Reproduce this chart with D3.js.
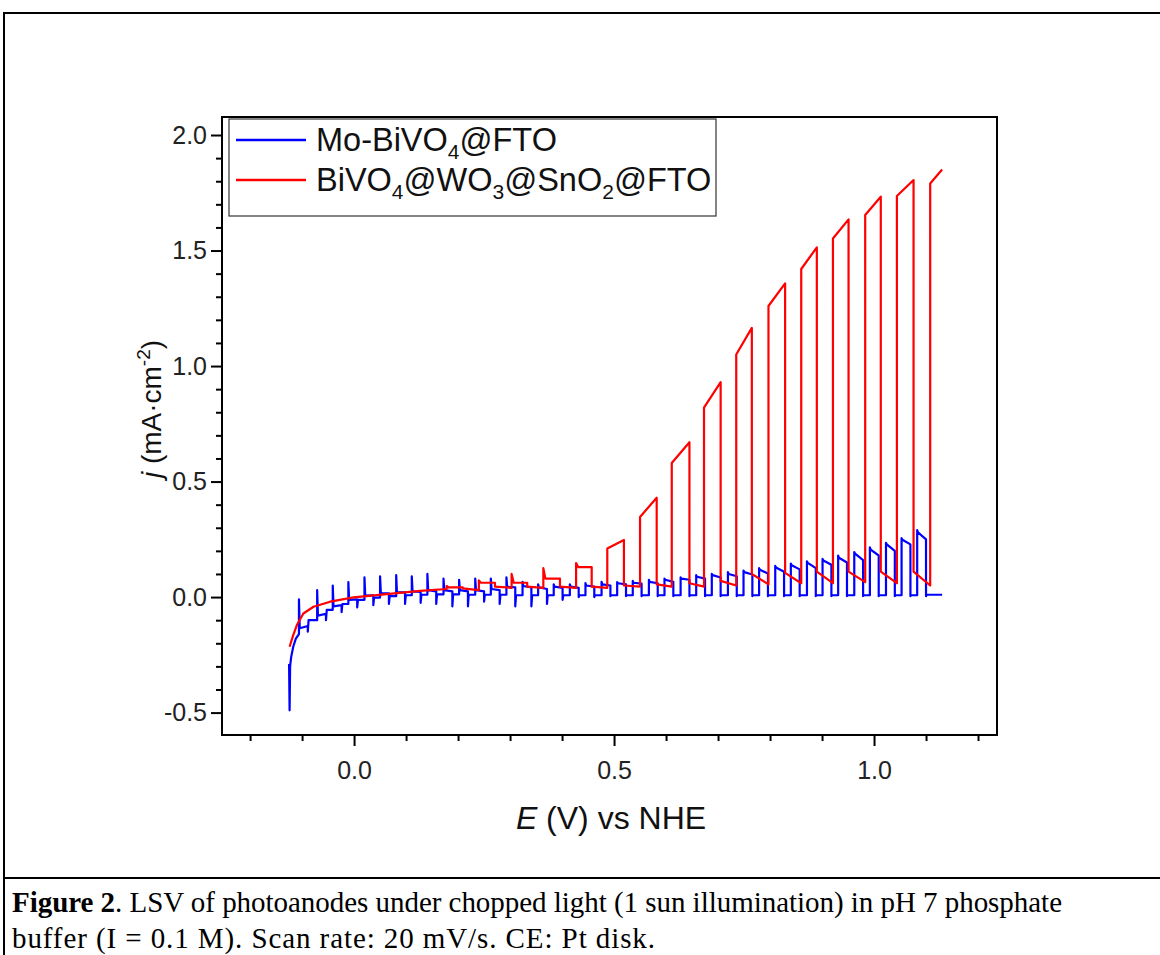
<!DOCTYPE html>
<html>
<head>
<meta charset="utf-8">
<script src="https://cdn.jsdelivr.net/npm/d3@7"></script>
<style>
  body { margin: 0; background: #fff; }
  svg { display: block; }
</style>
</head>
<body>
<div id="chart"></div>
<script>
// axis ticks
var xMajor = [0.0, 0.5, 1.0];
var xMinor = [-0.2, -0.1, 0.1, 0.2, 0.3, 0.4, 0.6, 0.7, 0.8, 0.9, 1.1, 1.2];
var yMajor = [-0.5, 0.0, 0.5, 1.0, 1.5, 2.0];
var yMinor = [-0.4, -0.3, -0.2, -0.1, 0.1, 0.2, 0.3, 0.4, 0.6, 0.7, 0.8, 0.9, 1.1, 1.2, 1.3, 1.4, 1.6, 1.7, 1.8, 1.9];

var seriesNames = ["Mo-BiVO4@FTO", "BiVO4@WO3@SnO2@FTO"];
var seriesColors = ["#0000ff", "#ff0000"];

// red: BiVO4@WO3@SnO2@FTO, smooth part before chopping shows
var redBaseE = [-0.124, -0.117, -0.110, -0.0975, -0.078, -0.046, -0.001, 0.063, 0.127, 0.178];
var redBaseJ = [-0.215, -0.165, -0.121, -0.071, -0.042, -0.020, -0.001, 0.013, 0.027, 0.035];
// red light-on / light-off cycles (E in V, j in mA/cm2)
var redOnE  = [0.178, 0.240, 0.303, 0.364, 0.427, 0.487, 0.550, 0.611, 0.673, 0.735, 0.797, 0.860, 0.921, 0.983, 1.044, 1.108];
var redOffE = [0.209, 0.271, 0.333, 0.396, 0.457, 0.519, 0.582, 0.645, 0.705, 0.765, 0.829, 0.890, 0.951, 1.013, 1.076, 1.131];
var redDark = [0.035, 0.030, 0.040, 0.040, 0.040, 0.040, 0.045, 0.045, 0.045, 0.050, 0.055, 0.060, 0.060, 0.065, 0.060, 0.050];
var redRise = [0.048, 0.072, 0.100, 0.125, 0.147, 0.210, 0.347, 0.580, 0.820, 1.050, 1.260, 1.420, 1.552, 1.654, 1.736, 1.790];
var redPeak = [0.042, 0.062, 0.062, 0.080, 0.130, 0.247, 0.430, 0.670, 0.930, 1.165, 1.358, 1.514, 1.635, 1.733, 1.805, 1.851];
var redDrop = [0.038, 0.045, 0.045, 0.045, 0.045, 0.050, 0.055, 0.060, 0.070, 0.100, 0.105, 0.110, 0.110, 0.110, 0.110, null];

// blue: Mo-BiVO4@FTO
var blueStartE = [-0.125, -0.124, -0.123, -0.121, -0.117, -0.112];
var blueStartJ = [-0.29, -0.49, -0.30, -0.26, -0.215, -0.18];
var blueOnE  = [-0.106, -0.071, -0.041, -0.011, 0.020, 0.050, 0.081, 0.111, 0.141, 0.172, 0.202, 0.233, 0.263, 0.293, 0.324, 0.354, 0.384, 0.415, 0.445, 0.476,
                0.506, 0.536, 0.567, 0.597, 0.628, 0.658, 0.688, 0.719, 0.749, 0.779, 0.810, 0.840, 0.871, 0.901, 0.931, 0.962, 0.992, 1.023, 1.053, 1.083];
var blueOffE = [-0.089, -0.054, -0.024, 0.006, 0.037, 0.067, 0.098, 0.128, 0.158, 0.189, 0.219, 0.250, 0.280, 0.310, 0.341, 0.371, 0.401, 0.432, 0.462, 0.493,
                0.523, 0.553, 0.584, 0.614, 0.645, 0.675, 0.705, 0.736, 0.766, 0.796, 0.827, 0.857, 0.888, 0.918, 0.948, 0.979, 1.009, 1.040, 1.070, 1.100];
var blueDark = [-0.160, -0.100, -0.055, -0.030, -0.012, -0.002, 0.004, 0.008, 0.010, 0.012, 0.012, 0.010, 0.010, 0.010, 0.008, 0.008, 0.008, 0.008, 0.008, 0.008,
                0.008, 0.008, 0.008, 0.008, 0.008, 0.008, 0.008, 0.008, 0.008, 0.008, 0.008, 0.008, 0.008, 0.008, 0.008, 0.008, 0.008, 0.008, 0.008, 0.008];
var blueSpike = [-0.010, 0.030, 0.050, 0.065, 0.085, 0.090, 0.095, 0.090, 0.100, 0.080, 0.075, 0.080, 0.080, 0.085, 0.066, 0.055, 0.055, 0.055, 0.060, 0.066,
                 0.065, 0.070, 0.075, 0.080, 0.085, 0.095, 0.100, 0.108, 0.115, 0.125, 0.135, 0.145, 0.155, 0.165, 0.180, 0.195, 0.215, 0.235, 0.255, 0.290];
var blueOnStart = [-0.135, -0.080, -0.040, -0.012, 0.006, 0.016, 0.020, 0.025, 0.030, 0.030, 0.030, 0.030, 0.035, 0.045, 0.048, 0.042, 0.045, 0.045, 0.050, 0.055,
                   0.060, 0.062, 0.066, 0.075, 0.080, 0.088, 0.095, 0.100, 0.108, 0.118, 0.128, 0.138, 0.148, 0.158, 0.170, 0.188, 0.205, 0.228, 0.248, 0.280];
var blueOnEnd = [-0.125, -0.072, -0.035, -0.010, 0.008, 0.016, 0.020, 0.022, 0.025, 0.025, 0.025, 0.025, 0.030, 0.042, 0.042, 0.035, 0.040, 0.040, 0.045, 0.050,
                 0.055, 0.058, 0.060, 0.066, 0.075, 0.080, 0.085, 0.090, 0.098, 0.102, 0.110, 0.120, 0.125, 0.140, 0.150, 0.160, 0.180, 0.200, 0.228, 0.250];
var blueDip = [-0.150, -0.100, -0.065, -0.045, -0.035, -0.030, -0.030, -0.025, -0.030, -0.040, -0.040, -0.020, -0.030, -0.040, -0.040, -0.030, -0.012, 0.000, 0.000, 0.004,
               0.004, 0.004, 0.004, 0.004, 0.004, 0.004, 0.004, 0.004, 0.004, 0.004, 0.004, 0.004, 0.004, 0.004, 0.004, 0.004, 0.004, 0.004, 0.004, 0.004];
var blueEndE = 1.131, blueEndJ = 0.010;

var width = 1160, height = 955;
var box = {left: 222, right: 997, top: 117, bottom: 735};

var svg = d3.select("#chart").append("svg")
    .attr("width", width)
    .attr("height", height);

// page frame of the figure table
svg.append("path")
    .attr("d", "M4,955 V13 H1160 M4,878 H1160")
    .attr("fill", "none")
    .attr("stroke", "#000")
    .attr("stroke-width", 2);

var x = d3.scaleLinear().domain([-0.254, 1.2365]).range([box.left, box.right]);
var y = d3.scaleLinear().domain([-0.597, 2.078]).range([box.bottom, box.top]);

var font = "'Liberation Sans', Arial, sans-serif";
var fmt = function(d) { return d.toFixed(1); };

// axes
function styleAxis(g) {
  g.select(".domain").remove();
  g.selectAll(".tick line").attr("stroke", "#000").attr("stroke-width", 2);
  g.selectAll("text").attr("font-family", font).attr("font-size", 25).attr("fill", "#222");
}
svg.append("g")
    .attr("transform", "translate(0," + box.bottom + ")")
    .call(d3.axisBottom(x).tickValues(xMajor).tickSize(11).tickPadding(15).tickFormat(fmt))
    .call(styleAxis);
svg.append("g")
    .attr("transform", "translate(0," + box.bottom + ")")
    .call(d3.axisBottom(x).tickValues(xMinor).tickSize(6).tickFormat(""))
    .call(styleAxis);
svg.append("g")
    .attr("transform", "translate(" + box.left + ",0)")
    .call(d3.axisLeft(y).tickValues(yMajor).tickSize(11).tickPadding(4).tickFormat(fmt))
    .call(styleAxis);
svg.append("g")
    .attr("transform", "translate(" + box.left + ",0)")
    .call(d3.axisLeft(y).tickValues(yMinor).tickSize(6).tickFormat(""))
    .call(styleAxis);

// build the chopped-light paths
var bluePts = blueStartE.map(function(e, i) { return [e, blueStartJ[i]]; });
blueOnE.forEach(function(e, k) {
  bluePts.push([e, blueDark[k]]);
  bluePts.push([e, blueSpike[k]]);
  bluePts.push([e + 0.0015, blueOnStart[k]]);
  bluePts.push([blueOffE[k], blueOnEnd[k]]);
  bluePts.push([blueOffE[k], blueDip[k]]);
  var next = k + 1 < blueOnE.length ? blueDark[k + 1] : blueEndJ;
  bluePts.push([blueOffE[k] + 0.0015, next]);
});
bluePts.push([blueEndE, blueEndJ]);

var redPts = redBaseE.map(function(e, i) { return [e, redBaseJ[i]]; });
redOnE.forEach(function(e, k) {
  redPts.push([e, redDark[k]]);
  redPts.push([e, redRise[k]]);
  if (redRise[k] > redPeak[k]) redPts.push([e + 0.004, redPeak[k]]);
  redPts.push([redOffE[k], redPeak[k]]);
  if (redDrop[k] != null) redPts.push([redOffE[k], redDrop[k]]);
});

var line = d3.line().x(function(d) { return x(d[0]); }).y(function(d) { return y(d[1]); });

svg.append("path").datum(bluePts)
    .attr("d", line)
    .attr("fill", "none")
    .attr("stroke", seriesColors[0])
    .attr("stroke-width", 2.2)
    .attr("stroke-linejoin", "round");
svg.append("path").datum(redPts)
    .attr("d", line)
    .attr("fill", "none")
    .attr("stroke", seriesColors[1])
    .attr("stroke-width", 2.2)
    .attr("stroke-linejoin", "round");

// plot frame
svg.append("rect")
    .attr("x", box.left).attr("y", box.top)
    .attr("width", box.right - box.left).attr("height", box.bottom - box.top)
    .attr("fill", "none").attr("stroke", "#000").attr("stroke-width", 2);

// legend
var leg = svg.append("g");
leg.append("rect")
    .attr("x", 229).attr("y", 119).attr("width", 487).attr("height", 97)
    .attr("fill", "#fff").attr("stroke", "#333").attr("stroke-width", 1.2);
function chem(text, s) {
  // digits in the formula become subscripts
  var parts = s.match(/[0-9]+|[^0-9]+/g);
  var shift = 0;
  parts.forEach(function(p) {
    if (/^[0-9]+$/.test(p)) {
      text.append("tspan").attr("font-size", 21).attr("dy", 8 - shift).text(p);
      shift = 8;
    } else {
      text.append("tspan").attr("dy", -shift).text(p);
      shift = 0;
    }
  });
}
seriesNames.forEach(function(name, i) {
  var ly = 140 + i * 40;
  leg.append("line")
      .attr("x1", 236).attr("x2", 306).attr("y1", ly).attr("y2", ly)
      .attr("stroke", seriesColors[i]).attr("stroke-width", 2.5);
  var t = leg.append("text")
      .attr("x", 316).attr("y", ly + 11)
      .attr("font-family", font).attr("font-size", 32.5).attr("fill", "#111");
  chem(t, name);
});

// axis titles
var xt = svg.append("text")
    .attr("x", 611).attr("y", 829)
    .attr("text-anchor", "middle")
    .attr("font-family", font).attr("font-size", 32).attr("fill", "#111");
xt.append("tspan").attr("font-style", "italic").text("E");
xt.append("tspan").text(" (V) vs NHE");

var yt = svg.append("text")
    .attr("transform", "translate(161,409) rotate(-90)")
    .attr("text-anchor", "middle")
    .attr("font-family", font).attr("font-size", 28).attr("fill", "#111");
yt.append("tspan").attr("font-style", "italic").text("j");
yt.append("tspan").text(" (mA\u00b7cm");
yt.append("tspan").attr("font-size", 19).attr("dy", -11).text("-2");
yt.append("tspan").attr("dy", 11).text(")");

// caption
var serif = "'Liberation Serif', 'Times New Roman', serif";
var cap = svg.append("text")
    .attr("x", 12).attr("y", 912)
    .attr("font-family", serif)
    .attr("font-size", 29).attr("fill", "#000")
    .attr("textLength", 1050).attr("lengthAdjust", "spacing");
cap.append("tspan").attr("font-weight", "bold").text("Figure 2");
cap.append("tspan").text(". LSV of photoanodes under chopped light (1 sun illumination) in pH 7 phosphate");
svg.append("text")
    .attr("x", 12).attr("y", 948)
    .attr("font-family", serif)
    .attr("font-size", 29).attr("fill", "#000")
    .attr("textLength", 643).attr("lengthAdjust", "spacing")
    .text("buffer (I = 0.1 M). Scan rate: 20 mV/s. CE: Pt disk.");
</script>
</body>
</html>
